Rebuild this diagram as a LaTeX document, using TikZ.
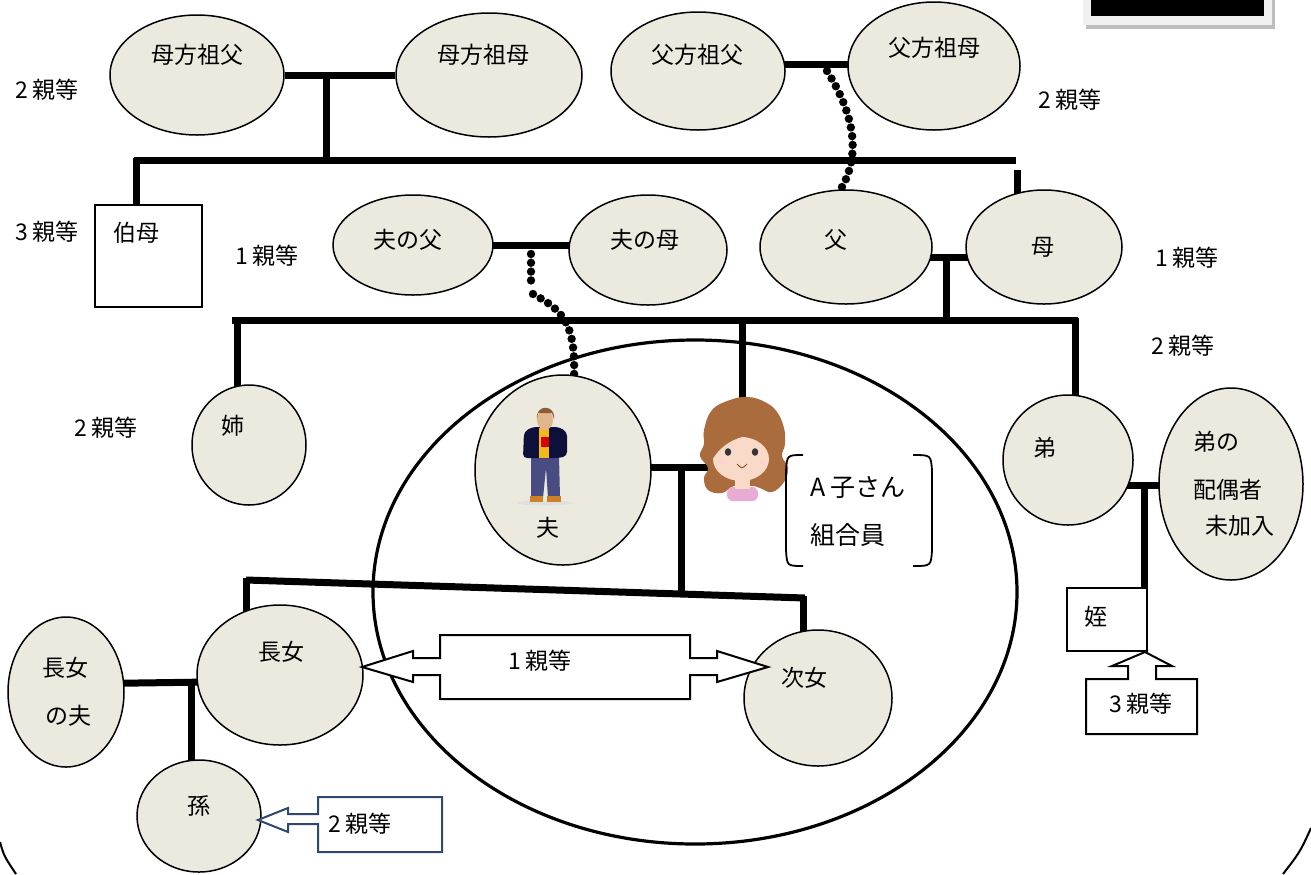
\documentclass[tikz,border=0pt]{standalone}
\usepackage{fontspec}
\setmainfont{Noto Sans CJK JP}
\usetikzlibrary{shapes.geometric,calc}

\definecolor{kin}{RGB}{236,234,223}
\definecolor{navyline}{RGB}{47,72,110}
\definecolor{jeans}{RGB}{72,76,130}
\definecolor{jacket}{RGB}{12,16,58}
\definecolor{shirt}{RGB}{245,185,25}
\definecolor{shoe}{RGB}{205,130,40}
\definecolor{skinm}{RGB}{225,182,140}
\definecolor{hairm}{RGB}{140,92,52}
\definecolor{hairw}{RGB}{170,108,60}
\definecolor{skinw}{RGB}{249,218,200}
\definecolor{pinkw}{RGB}{232,172,212}
\definecolor{winlight}{RGB}{240,240,240}
\definecolor{winshadow}{RGB}{190,190,190}

\pgfdeclarelayer{bottom}
\pgfdeclarelayer{background}
\pgfsetlayers{bottom,background,main}

\tikzset{
  person/.style 2 args={ellipse, draw=black, line width=0.75pt, fill=kin,
    inner sep=0pt, minimum width=#1pt, minimum height=#2pt},
  boxnode/.style 2 args={rectangle, draw=black, line width=0.75pt, fill=white,
    inner sep=0pt, minimum width=#1pt, minimum height=#2pt},
  txt/.style={inner sep=0pt, font=\fontsize{11.5}{13}\selectfont},
  bigtxt/.style={inner sep=0pt, font=\fontsize{12.5}{14}\selectfont},
  bar/.style={line width=3.5pt},
  beads/.style={line width=4.2pt, line cap=round, dash pattern=on 0pt off 4.4pt},
  blockarrow/.style={draw=black, line width=1pt, fill=white, line join=miter},
}

\begin{document}
\begin{tikzpicture}[x=0.5pt,y=-0.5pt]
\useasboundingbox (0,0) rectangle (1311,874);
\clip (0,0) rectangle (1311,874);

% window fragment in the upper right corner
\fill[winshadow] (1086,0) rectangle (1275,29);
\fill[winlight] (1083,0) rectangle (1272,25);
\fill[black] (1091,0) rectangle (1264,16);

% rounded frame corners at the bottom edge
\draw[line width=1pt] (0,842) .. controls (4,856) .. (16,874);
\draw[line width=1pt] (1311,828) .. controls (1300,852) .. (1283,874);

% grandparents
\node[person={87}{60}] (mgf) at (197,75) {};
\node[person={93}{62}] (mgm) at (489,75) {};
\node[person={87}{59}] (pgf) at (698,71) {};
\node[person={86}{64}] (pgm) at (934,66) {};
\node[txt] (tmgf) at (197,55) {母方祖父};
\node[txt] (tmgm) at (483,55) {母方祖母};
\node[txt] (tpgf) at (697,55) {父方祖父};
\node[txt] (tpgm) at (934,48) {父方祖母};

% parents
\node[person={80}{50}] (hfa) at (413,245) {};
\node[person={79}{55}] (hmo) at (648,250) {};
\node[person={86}{57}] (fa) at (846,247) {};
\node[person={78}{57}] (mo) at (1044,247) {};
\node[txt] (thfa) at (408,240) {夫の父};
\node[txt] (thmo) at (645,240) {夫の母};
\node[txt] (tfa) at (836,240) {父};
\node[txt] (tmo) at (1043,247) {母};

% aunt
\node[boxnode={53.5}{51}] (aunt) at (148.5,256) {};
\node[txt] (taunt) at (136,233) {伯母};

% the household
\begin{pgfonlayer}{bottom}
  \draw[line width=1.6pt, fill=white] (695,592) ellipse [x radius=322, y radius=252];
\end{pgfonlayer}

\node[person={57}{60}] (sis) at (249,445) {};
\node[txt] (tsis) at (233,426) {姉};
\node[person={88}{95}] (hus) at (563,470) {};
\node[txt] (thus) at (548,528) {夫};
\node[person={65}{65}] (bro) at (1068,460) {};
\node[txt] (tbro) at (1045,448) {弟};
\node[person={72}{96}] (bsp) at (1231,484) {};
\node[txt] (tbsp1) at (1216,442) {弟の};
\node[txt] (tbsp2) at (1228,490) {配偶者};
\node[txt] (tbsp3) at (1240,526) {未加入};

% children and grandchild
\node[person={83}{70}] (d1) at (280,675) {};
\node[txt] (td1) at (281,652) {長女};
\node[person={58}{75}] (d1h) at (66,692) {};
\node[txt] (td1h1) at (65,668) {長女};
\node[txt] (td1h2) at (68,716) {の夫};
\node[person={74}{68}] (d2) at (818,698) {};
\node[txt] (td2) at (804,678) {次女};
\node[person={62}{56}] (gc) at (199,816) {};
\node[txt] (tgc) at (199,806) {孫};
\node[boxnode={40}{31.5}] (niece) at (1107,619.5) {};
\node[txt] (tniece) at (1096,617) {姪};

% degree labels
\node[txt] (l1) at (47,90) {2 親等};
\node[txt] (l2) at (1070,100) {2 親等};
\node[txt] (l3) at (47,232) {3 親等};
\node[txt] (l4) at (267,256) {1 親等};
\node[txt] (l5) at (1187,258) {1 親等};
\node[txt] (l6) at (1183,346) {2 親等};
\node[txt] (l7) at (106,428) {2 親等};

% the member herself
\coordinate (wife) at (712,467);
\fill[hairw] plot[smooth cycle, tension=0.7] coordinates {(704,430) (712,410) (730,400) (748,397) (765,402) (777,412) (784,428) (785,444) (782,456) (788,468) (784,482) (772,492) (760,488) (752,486) (734,486) (722,493) (708,490) (704,478) (708,468) (700,456) (704,444)};
\fill[pinkw, rounded corners=3pt] (727,501) -- (727,487) -- (758,487) -- (758,501) -- cycle;
\fill[skinw] (735,474) rectangle (750,489);
\fill[skinw] (741,459) ellipse [x radius=28, y radius=22];
\fill[hairw] (711,462) .. controls (708,426) and (766,416) .. (772,456)
  .. controls (768,443) and (758,437) .. (748,436)
  .. controls (735,437) and (719,446) .. (711,462) -- cycle;
\fill[black!80] (728,452) ellipse [x radius=3.2, y radius=3.8];
\fill[black!80] (755,452) ellipse [x radius=3.2, y radius=3.8];
\fill[pink!70] (722,462) ellipse [x radius=4.5, y radius=2.2];
\fill[pink!70] (762,462) ellipse [x radius=4.5, y radius=2.2];
\draw[brown!70!black, line width=0.5pt] (737,464) .. controls (742,469) .. (747,464);

% the husband figure
\fill[gray!25] (545,503) ellipse [x radius=28, y radius=2.5];
\fill[jeans] (531,456) -- (559,456) -- (560,498) -- (548,498) -- (546,468) -- (543,498) -- (531,498) -- cycle;
\fill[shoe] (530,496) rectangle (543,502);
\fill[shoe] (547,496) rectangle (561,502);
\fill[jacket, rounded corners=2pt] (523,458) -- (524,432) -- (532,427) -- (559,427) -- (567,432) -- (567,456) -- (559,458) -- cycle;
\fill[shirt] (539,428) rectangle (549,458);
\fill[red!85!black] (541,437) rectangle (549,447);
\fill[skinm] (545,420) ellipse [x radius=8, y radius=10];
\fill[hairm] (537,419) .. controls (535,404) and (556,404) .. (554,419) -- (552,413) -- (538,413) -- cycle;

% member bracket
\node[bigtxt] (tme1) at (858,488) {A 子さん};
\node[bigtxt] (tme2) at (848,535) {組合員};
\draw[line width=0.9pt] (803,455) .. controls (787,455) .. (786,471) -- (786,550) .. controls (787,566) .. (803,566);
\draw[line width=0.9pt] (913,455) .. controls (931,455) .. (932,471) -- (932,550) .. controls (931,566) .. (913,566);

% block arrows
\draw[blockarrow] (362,667) -- (413,651) -- (413,658) -- (440,658) -- (440,635) -- (690,635)
  -- (690,658) -- (717,658) -- (717,651) -- (768,667) -- (717,682) -- (717,675) -- (690,675)
  -- (690,699) -- (440,699) -- (440,675) -- (413,675) -- (413,682) -- cycle;
\node[txt] (a1) at (540,661) {1 親等};
\draw[blockarrow] (1145,652) -- (1172,666) -- (1156,666) -- (1156,679) -- (1197,679) -- (1197,734)
  -- (1086,734) -- (1086,679) -- (1128,679) -- (1128,666) -- (1112,666) -- cycle;
\node[txt] (a2) at (1141,704) {3 親等};
\draw[blockarrow, draw=navyline] (258,820) -- (288,808) -- (288,814) -- (318,814) -- (318,797) -- (442,797)
  -- (442,852) -- (318,852) -- (318,824) -- (288,824) -- (288,832) -- cycle;
\node[txt] (a3) at (360,824) {2 親等};

% kinship lines
\begin{pgfonlayer}{background}
  \draw[bar] (mgf) -- (mgm);
  \draw[bar] (326,75) -- (326,160);
  \draw[bar] (134,160) -- (1016,160);
  \draw[bar] (136,158) -- (136,0 |- aunt.north);
  \draw[bar] (1017,170) -- (1017,0 |- mo.center);
  \draw[bar] (pgf |- 0,64) -- (pgm |- 0,64);
  \draw[bar] (hfa |- 0,245) -- (hmo |- 0,245);
  \draw[bar] (fa |- 0,257) -- (mo |- 0,257);
  \draw[bar] (946,257) -- (946,320);
  \draw[bar] (232,320) -- (1078,320);
  \draw[bar] (237,318) -- (237,0 |- sis.center);
  \draw[bar] (742,318) -- (742,405);
  \draw[bar] (1075,318) -- (1075,0 |- bro.center);
  \draw[bar] (hus |- wife) -- (wife);
  \draw[bar] (681,467) -- (681,597);
  \draw[bar] (246,580) -- (805,598);
  \draw[bar] (246,578) -- (246,0 |- d1.center);
  \draw[bar] (803,596) -- (803,0 |- d2.center);
  \draw[bar] (bro |- 0,485) -- (bsp |- 0,485);
  \draw[bar] (1144,485) -- (1144,0 |- niece.center);
  \draw[bar] (d1h |- 0,684) -- (d1 |- 0,681);
  \draw[bar] (191,682) -- (191,0 |- gc.center);
  % blood ties between generations
  \draw[beads] (827,71) .. controls (858,120) and (862,165) .. (833,200);
  \draw[beads] (531,254) -- (531,281);
  \draw[beads] (533,294) .. controls (562,310) and (576,322) .. (574,378);
\end{pgfonlayer}
\end{tikzpicture}
\end{document}
